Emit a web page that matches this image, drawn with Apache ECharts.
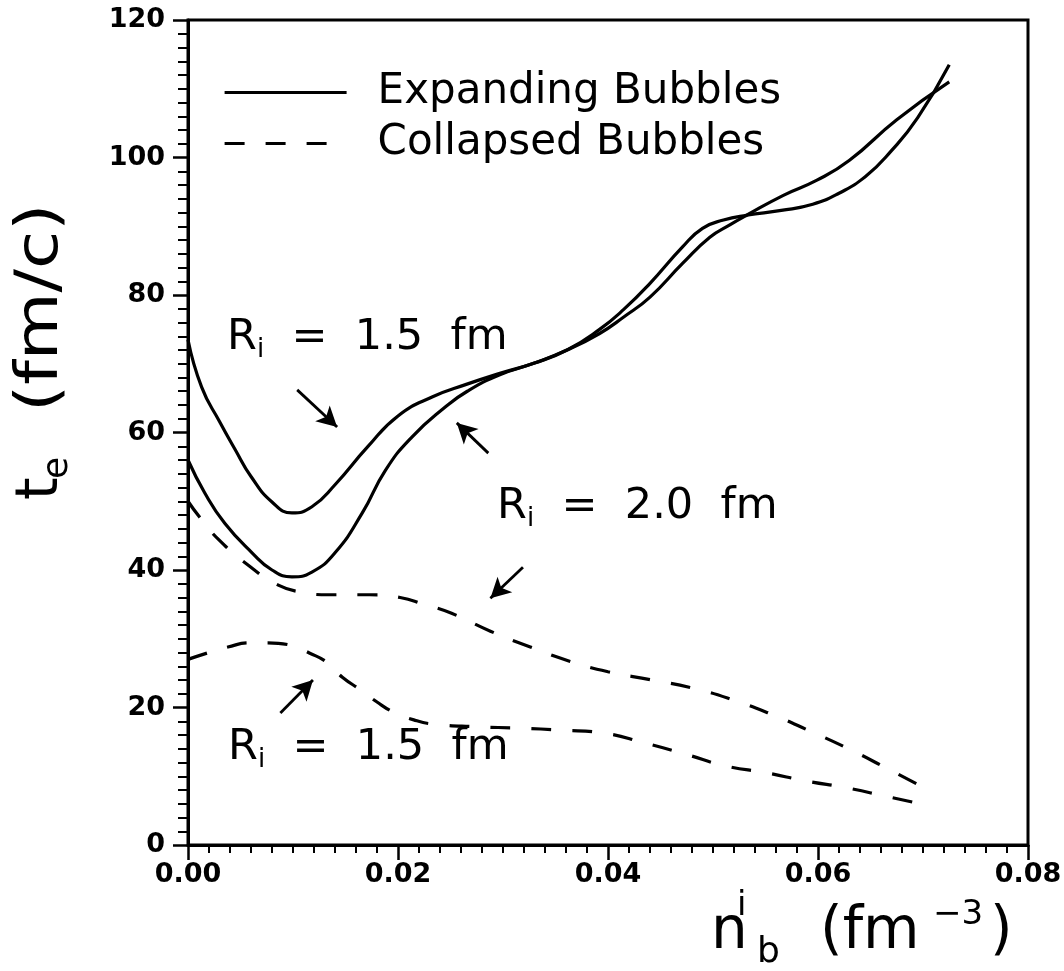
<!DOCTYPE html>
<html>
<head>
<meta charset="utf-8">
<title>t_e vs n_b</title>
<script src="https://cdn.jsdelivr.net/npm/echarts@6/dist/echarts.min.js"></script>
<style>
    html, body { margin: 0; padding: 0; background: #fff; }
    #chart { width: 1064px; height: 971px; }
</style>
</head>
<body>
<div id="chart"></div>
<script>
// 数据: [n_b^i (fm^-3), t_e (fm/c)]
var expandR15 = [
    [0, 73.5], [0.0013, 66.6], [0.003, 61.6], [0.0045, 57.5], [0.006, 53.6], [0.008, 49.9],
    [0.0099, 48.3], [0.0118, 49.2], [0.014, 52.4], [0.0171, 57.9], [0.02, 62.4], [0.0233, 65.2],
    [0.0265, 67.0], [0.0297, 68.6], [0.033, 70.1], [0.0361, 72.0], [0.0392, 75.0], [0.0415, 77.9],
    [0.044, 81.7], [0.0471, 87.0], [0.049, 89.7], [0.051, 90.9], [0.0532, 91.6], [0.0565, 92.3],
    [0.0595, 93.2], [0.062, 94.8], [0.0645, 97.2], [0.067, 101.0], [0.0695, 105.8], [0.0725, 113.5]
];
var expandR20 = [
    [0, 56.0], [0.0016, 51.2], [0.0035, 46.8], [0.0061, 42.5], [0.008, 40.0], [0.0099, 39.0],
    [0.0118, 39.7], [0.014, 42.5], [0.0166, 48.3], [0.0188, 54.5], [0.0213, 59.3], [0.0245, 63.7],
    [0.0266, 66.0], [0.0297, 68.4], [0.033, 70.1], [0.0361, 72.0], [0.0392, 74.4], [0.0415, 76.8],
    [0.044, 79.7], [0.0471, 84.6], [0.0497, 88.4], [0.0516, 90.2], [0.0532, 91.6], [0.0567, 94.5],
    [0.0599, 96.7], [0.063, 99.6], [0.0675, 105.5], [0.0725, 111.0]
];
var collapseR20 = [
    [0, 50.0], [0.0011, 47.7], [0.003, 44.3], [0.0059, 40.5], [0.0086, 37.8], [0.0107, 36.8],
    [0.0135, 36.4], [0.0173, 36.4], [0.0202, 36.0], [0.0225, 35.0], [0.0251, 33.7], [0.0288, 31.1],
    [0.0326, 28.8], [0.0364, 26.7], [0.04, 25.2], [0.0442, 24.0], [0.0481, 22.8], [0.0519, 21.1],
    [0.0556, 19.0], [0.0592, 16.6], [0.0629, 14.0], [0.0665, 11.2], [0.0709, 7.7]
];
var collapseR15 = [
    [0, 27.0], [0.002, 28.0], [0.0038, 28.8], [0.0059, 29.4], [0.0076, 29.4], [0.0097, 29.1],
    [0.0116, 27.9], [0.0133, 26.5], [0.0147, 24.4], [0.0165, 22.5], [0.018, 20.8], [0.0196, 19.3],
    [0.0215, 18.2], [0.0233, 17.6], [0.0275, 17.2], [0.0316, 17.0], [0.0356, 16.7], [0.0395, 16.3],
    [0.0436, 14.8], [0.0474, 13.2], [0.0512, 11.5], [0.0551, 10.5], [0.0589, 9.3], [0.0628, 8.3],
    [0.0667, 7.0], [0.0707, 5.7]
];
// 箭头 [起点, 终点]
var arrows = [
    [[0.0104, 66.2], [0.0142, 60.8]],
    [[0.0286, 57.0], [0.0256, 61.4]],
    [[0.0319, 40.4], [0.0288, 35.9]],
    [[0.0088, 19.2], [0.0119, 24.0]]
];
var legendNames = ['Expanding Bubbles', 'Collapsed Bubbles'];
var xTickDigits = 2;

var FONT = 'DejaVu Sans';

var myChart = echarts.init(document.getElementById('chart'), null, {renderer: 'canvas'});

function curve(name, data, dashed) {
    return {
        name: name,
        type: 'line',
        data: data,
        smooth: 0.5,
        symbol: 'none',
        silent: true,
        itemStyle: {color: '#000'},
        lineStyle: {
            color: '#000',
            width: 3.2,
            type: dashed ? [20, 21] : 'solid'
        }
    };
}

// R_i = ... 标注
function riLabel(x, y, value) {
    return {
        type: 'text',
        x: x,
        y: y,
        style: {
            text: '{r|R}{s|i}{r|  =  ' + value + '  fm}',
            align: 'left',
            verticalAlign: 'middle',
            fill: '#000',
            rich: {
                r: {fontSize: 43, fontFamily: FONT, lineHeight: 50, fill: '#000'},
                s: {fontSize: 26, fontFamily: FONT, verticalAlign: 'bottom', fill: '#000'}
            }
        }
    };
}

var arrowLines = arrows.map(function (a) {
    return [{coord: a[0]}, {coord: a[1]}];
});

var option = {
    animation: false,
    backgroundColor: '#fff',
    grid: {
        left: 188,
        top: 20,
        right: 36,
        bottom: 126,
        show: true,
        borderColor: '#000',
        borderWidth: 3,
        outerBoundsMode: 'none'
    },
    legend: {
        data: legendNames,
        orient: 'vertical',
        left: 218,
        top: 62,
        itemWidth: 122,
        itemHeight: 20,
        itemGap: 0,
        selectedMode: false,
        itemStyle: {color: 'transparent', borderColor: 'transparent', borderWidth: 0},
        lineStyle: {color: '#000', width: 3.2},
        textStyle: {
            fontFamily: FONT,
            fontSize: 42,
            color: '#000',
            lineHeight: 21,
            padding: [0, 0, 30, 26]
        }
    },
    xAxis: {
        type: 'value',
        min: 0,
        max: 0.08,
        interval: 0.02,
        axisLine: {lineStyle: {color: '#000', width: 3}},
        axisTick: {length: 15, lineStyle: {color: '#000', width: 2.5}},
        minorTick: {show: true, splitNumber: 10, length: 8, lineStyle: {color: '#000', width: 2}},
        splitLine: {show: false},
        axisLabel: {
            fontFamily: FONT,
            fontSize: 27,
            fontWeight: 'bold',
            color: '#000',
            margin: 16,
            showMinLabel: true,
            showMaxLabel: true,
            formatter: function (v) { return v.toFixed(xTickDigits); }
        }
    },
    yAxis: {
        type: 'value',
        min: 0,
        max: 120,
        interval: 20,
        axisLine: {lineStyle: {color: '#000', width: 3}},
        axisTick: {length: 15, lineStyle: {color: '#000', width: 2.5}},
        minorTick: {show: true, splitNumber: 10, length: 10, lineStyle: {color: '#000', width: 2}},
        splitLine: {show: false},
        axisLabel: {
            fontFamily: FONT,
            fontSize: 27,
            fontWeight: 'bold',
            color: '#000',
            margin: 23,
            showMinLabel: true,
            showMaxLabel: true
        }
    },
    series: [
        curve(legendNames[0], expandR15, false),
        curve(legendNames[0], expandR20, false),
        curve(legendNames[1], collapseR20, true),
        curve(legendNames[1], collapseR15, true),
        {
            name: 'arrows',
            type: 'line',
            data: [],
            silent: true,
            markLine: {
                silent: true,
                symbol: ['none', 'arrow'],
                symbolSize: [16, 20],
                label: {show: false},
                lineStyle: {color: '#000', width: 2.8, type: 'solid'},
                data: arrowLines
            }
        }
    ],
    graphic: [
        riLabel(227, 338, '1.5'),
        riLabel(497, 507, '2.0'),
        riLabel(228, 748, '1.5'),
        // y 轴标题 t_e (fm/c)
        {
            type: 'group',
            x: 42,
            y: 500,
            rotation: Math.PI / 2,
            children: [
                {type: 'text', x: 0, y: 0, style: {text: 't', fontSize: 58, fontFamily: FONT, fill: '#000', align: 'left', verticalAlign: 'middle'}},
                {type: 'text', x: 21, y: 16, style: {text: 'e', fontSize: 36, fontFamily: FONT, fill: '#000', align: 'left', verticalAlign: 'middle'}},
                {type: 'text', x: 88, y: 0, scaleX: 1.2, style: {text: '(fm/c)', fontSize: 58, fontFamily: FONT, fill: '#000', align: 'left', verticalAlign: 'middle'}}
            ]
        },
        // x 轴标题 n_b^i (fm^-3)
        {type: 'text', x: 711, y: 933, style: {text: 'n', fontSize: 58, fontFamily: FONT, fill: '#000', align: 'left', verticalAlign: 'middle'}},
        {type: 'text', x: 757, y: 953, style: {text: 'b', fontSize: 36, fontFamily: FONT, fill: '#000', align: 'left', verticalAlign: 'middle'}},
        {type: 'text', x: 737, y: 906, style: {text: 'i', fontSize: 34, fontFamily: FONT, fill: '#000', align: 'left', verticalAlign: 'middle'}},
        {type: 'text', x: 820, y: 933, style: {text: '(fm', fontSize: 58, fontFamily: FONT, fill: '#000', align: 'left', verticalAlign: 'middle'}},
        {type: 'text', x: 933, y: 915, style: {text: '\u22123', fontSize: 34, fontFamily: FONT, fill: '#000', align: 'left', verticalAlign: 'middle'}},
        {type: 'text', x: 990, y: 933, style: {text: ')', fontSize: 58, fontFamily: FONT, fill: '#000', align: 'left', verticalAlign: 'middle'}}
    ]
};

myChart.setOption(option);
</script>
</body>
</html>
